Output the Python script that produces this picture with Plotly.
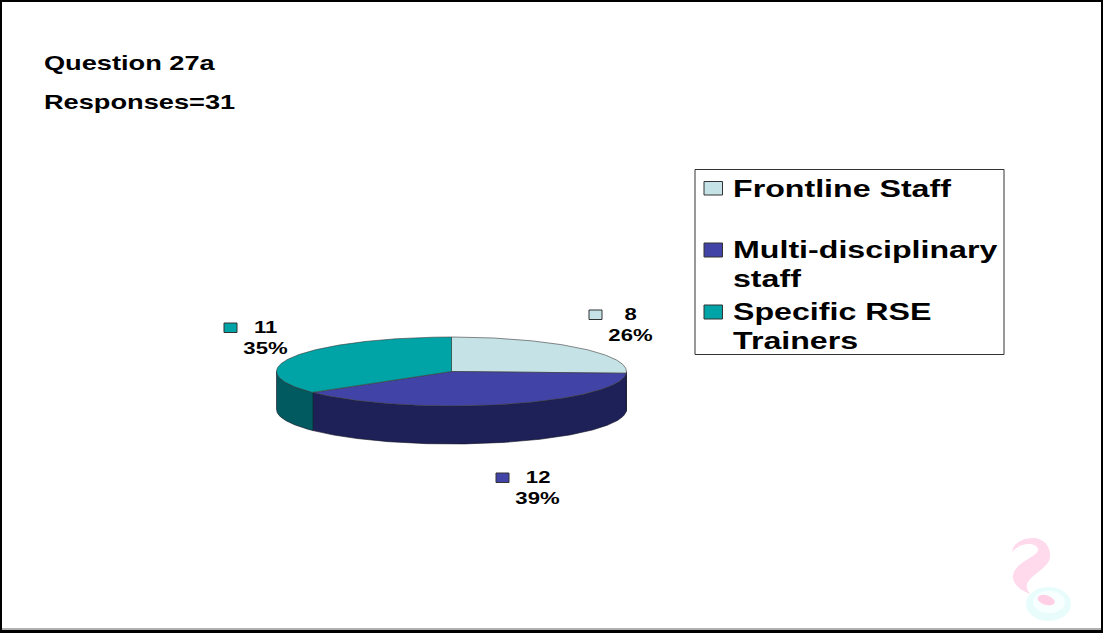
import math
import plotly.graph_objects as go

# Survey results
CATEGORIES = ["Frontline Staff", "Multi-disciplinary staff", "Specific RSE Trainers"]
LEGEND_LINES = [["Frontline Staff"], ["Multi-disciplinary", "staff"], ["Specific RSE", "Trainers"]]
COUNTS = [8, 12, 11]
HEADINGS = ["Question 27a", "Responses=31"]

TOP_COLORS = ["#c5e2e6", "#4144a6", "#00a3a6"]
SIDE_COLORS = ["#62767a", "#1e2158", "#005a5f"]
INK = "#000000"
FONT = "Liberation Sans"

# Pie geometry in page pixels
CX, CY, RX, RY, DEPTH = 451.5, 371.5, 175, 34.5, 38


def rim(deg, drop=0.0):
    a = math.radians(deg)
    return CX + RX * math.sin(a), CY - RY * math.cos(a) + drop


def arc(start, end, drop=0.0):
    n = max(2, int(abs(end - start) * 2))
    return [rim(start + (end - start) * i / n, drop) for i in range(n + 1)]


total = sum(COUNTS)
edges = [0.0]
for c in COUNTS:
    edges.append(edges[-1] + 360.0 * c / total)

fig = go.Figure()


def add_poly(points, fill, line="#3a3a3a", width=0.6):
    xs = [p[0] for p in points] + [points[0][0]]
    ys = [p[1] for p in points] + [points[0][1]]
    fig.add_trace(go.Scatter(x=xs, y=ys, mode="lines", fill="toself", fillcolor=fill,
                             line=dict(color=line, width=width), hoverinfo="skip",
                             showlegend=False))


# Extruded wall: only the part of each slice on the near half of the rim
for i in range(len(COUNTS)):
    s, e = max(edges[i], 90.0), min(edges[i + 1], 270.0)
    if e > s:
        add_poly(arc(s, e) + arc(e, s, DEPTH), SIDE_COLORS[i], line="#111122")

# Top face of every slice
for i in range(len(COUNTS)):
    add_poly([(CX, CY)] + arc(edges[i], edges[i + 1]), TOP_COLORS[i])

annotations = []


def text(x, y, s, size, anchor="center"):
    annotations.append(dict(x=x, y=y, text=s, showarrow=False, xanchor=anchor, yanchor="middle",
                            font=dict(family=FONT, size=size, color=INK, weight=700),
                            xref="x", yref="y"))


def swatch(x0, y0, x1, y1, fill):
    return dict(type="rect", x0=x0, y0=y0, x1=x1, y1=y1, xref="x", yref="y", layer="above",
                fillcolor=fill, line=dict(color="#333333", width=1))


shapes = []

# Headings
text(41.5, 63, HEADINGS[0], 20.3, "left")
text(41.5, 101.5, HEADINGS[1], 20.3, "left")

# Data labels beside their small keys
LABEL_SPOTS = [
    ((589, 310, 602, 319.5), (630, 314), (630, 335)),
    ((496, 473, 509, 482.5), (538, 477), (537, 498)),
    ((224, 323, 237, 332.5), (265, 327), (265.5, 348)),
]
for i, c in enumerate(COUNTS):
    box, count_at, pct_at = LABEL_SPOTS[i]
    shapes.append(swatch(*box, TOP_COLORS[i]))
    text(count_at[0], count_at[1], str(c), 16.5)
    text(pct_at[0], pct_at[1], f"{round(100 * c / total)}%", 16.5)

# Legend box
shapes.append(dict(type="rect", x0=695, y0=169.5, x1=1004, y1=354.5, xref="x", yref="y",
                   layer="above", fillcolor="rgba(255,255,255,0)", line=dict(color="#333333", width=1)))
LEGEND_KEYS = [(704, 181.5, 722.5, 195), (704, 243, 722.5, 257), (704, 305, 722.5, 319)]
LEGEND_ROWS = [[188], [249.5, 278], [311, 340]]
for i in range(len(CATEGORIES)):
    shapes.append(swatch(*LEGEND_KEYS[i], TOP_COLORS[i]))
    for line, y in zip(LEGEND_LINES[i], LEGEND_ROWS[i]):
        text(730.5, y, line, 24, "left")

# Corner emblem
shapes += [
    dict(type="path", layer="below", fillcolor="#ffd9ec", line=dict(width=0),
         path="M 1012 552 C 1013 543, 1023 538, 1033 538 C 1044 538, 1051 547, 1050 557 "
              "C 1049 568, 1031 574, 1027 584 C 1026 588, 1028 591, 1030 594 "
              "C 1019 590, 1012 583, 1013 575 C 1015 562, 1040 556, 1038 549 "
              "C 1036 543, 1022 541, 1012 552 Z"),
    dict(type="circle", layer="below", x0=1026, x1=1071, y0=587, y1=621,
         fillcolor="#e9fcfc", line=dict(width=0)),
    dict(type="circle", layer="below", x0=1033, x1=1065, y0=591, y1=613,
         fillcolor="#f7ffff", line=dict(width=0)),
    dict(type="path", layer="below", fillcolor="#ffcfe5", line=dict(width=0),
         path="M 1038 597 C 1041 593, 1050 595, 1054 600 C 1057 604, 1051 606, 1046 605 "
              "C 1041 604, 1036 600, 1038 597 Z"),
]

# Slide frame
frame = dict(xref="x", yref="y", layer="above")
shapes += [
    dict(type="line", x0=0, x1=1103, y0=1, y1=1, line=dict(color=INK, width=2), **frame),
    dict(type="line", x0=1, x1=1, y0=0, y1=633, line=dict(color=INK, width=2), **frame),
    dict(type="line", x0=1102, x1=1102, y0=0, y1=633, line=dict(color=INK, width=2), **frame),
    dict(type="line", x0=2, x1=1101, y0=629, y1=629, line=dict(color="#b0b0b0", width=2), **frame),
    dict(type="line", x0=0, x1=1103, y0=631.5, y1=631.5, line=dict(color=INK, width=3), **frame),
]

fig.update_layout(
    width=1104, height=635, margin=dict(l=0, r=0, t=0, b=0),
    paper_bgcolor="white", plot_bgcolor="white", showlegend=False,
    xaxis=dict(range=[0, 1104], visible=False, fixedrange=True),
    yaxis=dict(range=[635, 0], visible=False, fixedrange=True),
    annotations=annotations, shapes=shapes,
)

# The slide type is set wide: widen each text run around its anchor
WIDEN = """
var gd = document.getElementById('{plot_id}');
gd.querySelectorAll('.annotation').forEach(function (node) {
  var spec = gd.layout.annotations[+node.getAttribute('data-index')];
  var t = node.querySelector('text');
  var b = t.getBBox();
  var ox = spec.xanchor === 'left' ? b.x : b.x + b.width / 2;
  t.setAttribute('transform', 'translate(' + ox + ',0) scale(1.34,1) translate(' + (-ox) + ',0)');
});
"""

fig.write_html("out.html", post_script=WIDEN, config=dict(displayModeBar=False))
